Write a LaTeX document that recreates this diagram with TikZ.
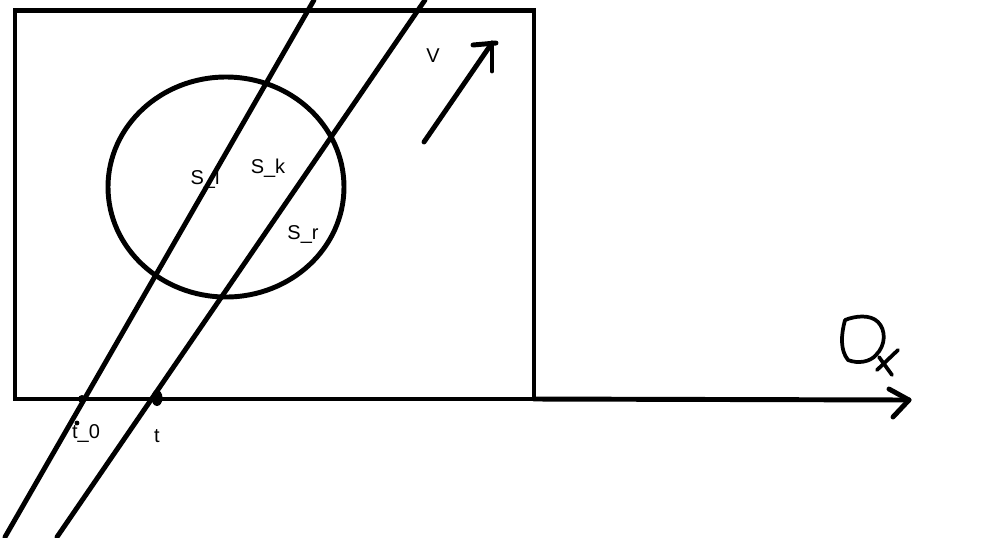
\documentclass[tikz,border=0pt]{standalone}
\usepackage{fontspec}
\setmainfont{Liberation Sans}
\begin{document}
\begin{tikzpicture}[x=0.75pt,y=-0.75pt,
  stroke/.style={line width=3.7pt,line cap=round,line join=round},
  lbl/.style={font=\fontsize{15}{17}\selectfont,inner sep=0pt}]
\useasboundingbox[fill=white] (0,0) rectangle (986,537);
% box
\draw[stroke,line cap=butt,line join=miter] (15,10.5) rectangle (534,399);
% axis
\coordinate (axs) at (534,399);
\coordinate (axe) at (909,400);
\draw[stroke] (axs) -- (axe);
\draw[stroke] (889,389) -- (axe) -- (893,417);
% Dx
\draw[stroke,line width=2.8pt] (845,320) .. controls (841,335) and (840,350) .. (848,360)
  .. controls (858,364) and (870,362) .. (876,355)
  .. controls (886,345) and (886,330) .. (878,322)
  .. controls (870,314) and (855,316) .. (845,320);
\draw[stroke,line width=2.8pt] (877,370) -- (898,350);
\draw[stroke,line width=2.8pt] (879,357) -- (892,375);
% circle
\draw[stroke] (226,187) ellipse [x radius=118, y radius=110];
% lines
\coordinate (l1a) at (314,0);
\coordinate (l1b) at (5,537);
\coordinate (l2a) at (425,0);
\coordinate (l2b) at (57,537);
\draw[stroke] (l1a) -- (l1b);
\draw[stroke] (l2a) -- (l2b);
% V arrow
\coordinate (va) at (424,142);
\coordinate (vb) at (492,43);
\draw[stroke] (va) -- (vb);
\draw[stroke] (473,45) -- (496,43);
\draw[stroke] (492,43) -- (492,71);
% points
\fill (82,399) circle [radius=4];
\fill (157,398) ellipse [x radius=5.5, y radius=8];
\fill (77,423) circle [radius=2.4];
% labels
\node[lbl] (sl) at (205,179) {S\_l};
\node[lbl] (sk) at (268,168) {S\_k};
\node[lbl] (sr) at (303,234) {S\_r};
\node[lbl] (v) at (433,56) {V};
\node[lbl] (t0) at (86,433) {t\_0};
\node[lbl] (t) at (157,436) {t};
\end{tikzpicture}
\end{document}
